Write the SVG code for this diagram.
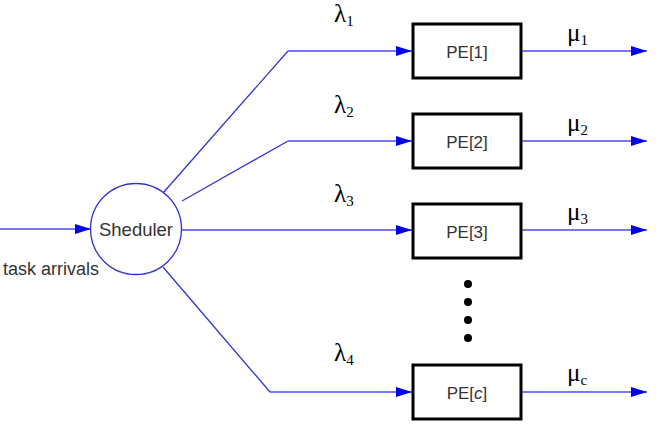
<svg xmlns="http://www.w3.org/2000/svg" width="664" height="428" viewBox="0 0 664 428">
<defs>
<marker id="ah" viewBox="0 0 16 10" refX="16" refY="5" markerWidth="16" markerHeight="10" markerUnits="userSpaceOnUse" orient="auto">
<path d="M0,0 L16,5 L0,10 Z" fill="#0000ee"/>
</marker>
</defs>
<style>
.diag{stroke:#3333cc;stroke-width:1.3;fill:none}
.hz{stroke:#4a4af0;stroke-width:1.6;fill:none}
.box{fill:#fff;stroke:#000;stroke-width:3}
.lbl{font-family:"Liberation Sans",Arial,sans-serif;font-size:17px;fill:#333}
.gk{font-family:"Liberation Serif","Times New Roman",serif;font-size:25px;fill:#000}
.sub{font-size:15px}
</style>
<rect width="664" height="428" fill="#fff"/>
<g id="connectors">
<line class="hz" x1="0" y1="229" x2="91" y2="229" marker-end="url(#ah)"/>
<polyline class="diag" points="163,193 288,51"/>
<polyline class="hz" points="288,51 412,51" marker-end="url(#ah)"/>
<polyline class="diag" points="182,201 288,141"/>
<polyline class="hz" points="288,141 412,141" marker-end="url(#ah)"/>
<line class="hz" x1="182" y1="230" x2="412" y2="230" marker-end="url(#ah)"/>
<polyline class="diag" points="163,267 270,392"/>
<polyline class="hz" points="270,392 412,392" marker-end="url(#ah)"/>
<line class="hz" x1="522" y1="51" x2="647" y2="51" marker-end="url(#ah)"/>
<line class="hz" x1="522" y1="141" x2="647" y2="141" marker-end="url(#ah)"/>
<line class="hz" x1="522" y1="230" x2="647" y2="230" marker-end="url(#ah)"/>
<line class="hz" x1="522" y1="392" x2="647" y2="392" marker-end="url(#ah)"/>
</g>
<g id="scheduler">
<circle cx="136" cy="229" r="45.5" fill="#fff" stroke="#3333cc" stroke-width="1.3"/>
<text class="lbl" x="136" y="236" text-anchor="middle" style="font-size:18.5px">Sheduler</text>
</g>
<text class="lbl" x="3" y="275" style="font-size:18px">task arrivals</text>
<g id="pe1">
<rect class="box" x="413" y="24" width="108" height="54"/>
<text class="lbl" x="467" y="58" text-anchor="middle">PE[1]</text>
</g>
<g id="pe2">
<rect class="box" x="413" y="114" width="108" height="54"/>
<text class="lbl" x="467" y="148" text-anchor="middle">PE[2]</text>
</g>
<g id="pe3">
<rect class="box" x="413" y="204" width="108" height="54"/>
<text class="lbl" x="467" y="238" text-anchor="middle">PE[3]</text>
</g>
<g id="pec">
<rect class="box" x="413" y="365" width="108" height="54"/>
<text class="lbl" x="467" y="399" text-anchor="middle">PE[<tspan font-style="italic">c</tspan>]</text>
</g>
<g id="dots" fill="#000">
<circle cx="468" cy="284" r="4"/>
<circle cx="468" cy="302" r="4"/>
<circle cx="468" cy="320" r="4"/>
<circle cx="468" cy="338" r="4"/>
</g>
<g id="labels">
<text class="gk" x="334" y="22">λ<tspan class="sub" dy="4">1</tspan></text>
<text class="gk" x="334" y="113">λ<tspan class="sub" dy="4">2</tspan></text>
<text class="gk" x="334" y="202">λ<tspan class="sub" dy="4">3</tspan></text>
<text class="gk" x="334" y="361">λ<tspan class="sub" dy="4">4</tspan></text>
<text class="gk" x="567" y="41">μ<tspan class="sub" dy="4">1</tspan></text>
<text class="gk" x="567" y="131">μ<tspan class="sub" dy="4">2</tspan></text>
<text class="gk" x="567" y="220">μ<tspan class="sub" dy="4">3</tspan></text>
<text class="gk" x="567" y="381">μ<tspan class="sub" dy="4">c</tspan></text>
</g>
</svg>
